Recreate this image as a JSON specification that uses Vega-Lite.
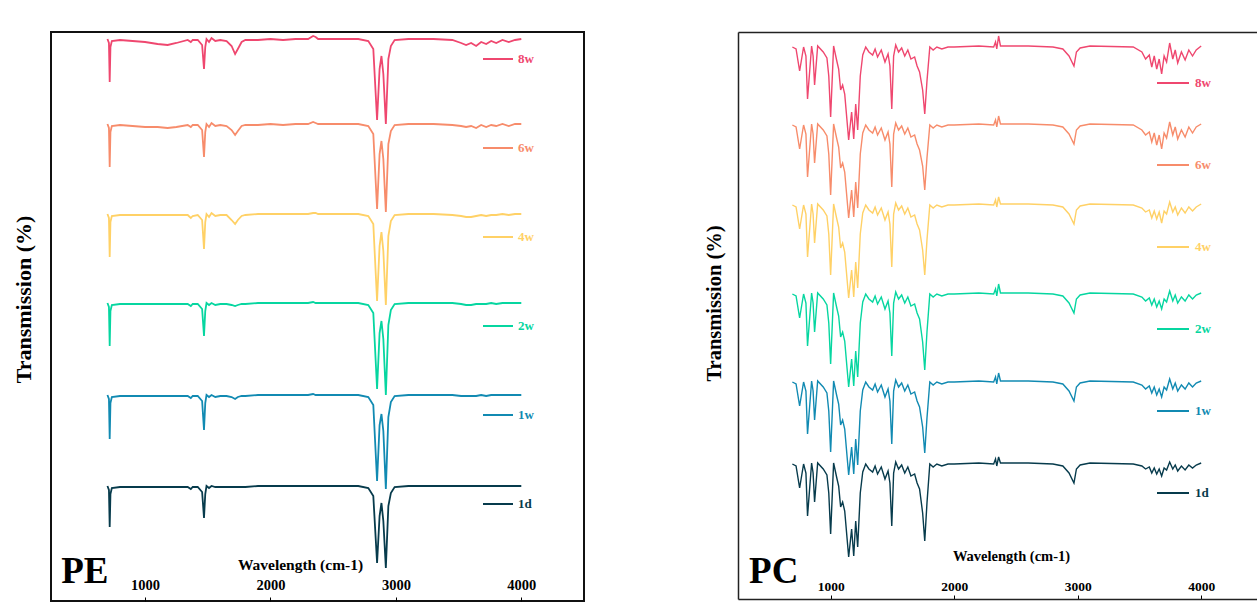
{
"$schema": "https://vega.github.io/schema/vega-lite/v6.json",
"padding": {"left": 11, "top": 31, "right": 0, "bottom": 0},
"background": "white",
"config": {"font": "Liberation Serif", "view": {"stroke": null}},
"spacing": 154,
"bounds": "flush",
"resolve": {"scale": {"color": "independent"}, "legend": {"color": "independent"}},
"datasets": {
"pe8w": [{"x":700,"y":562},{"x":712,"y":558},{"x":718,"y":519},{"x":724,"y":554},{"x":735,"y":560},{"x":800,"y":561},{"x":900,"y":560},{"x":1000,"y":559},{"x":1100,"y":557},{"x":1180,"y":556},{"x":1250,"y":558},{"x":1340,"y":561},{"x":1365,"y":559},{"x":1380,"y":561},{"x":1420,"y":561},{"x":1455,"y":556},{"x":1470,"y":532},{"x":1480,"y":554},{"x":1490,"y":562},{"x":1510,"y":559},{"x":1530,"y":563},{"x":1560,"y":560},{"x":1600,"y":561},{"x":1650,"y":560},{"x":1690,"y":555},{"x":1718,"y":547},{"x":1740,"y":552},{"x":1770,"y":559},{"x":1800,"y":561},{"x":1900,"y":561},{"x":2000,"y":562},{"x":2100,"y":561},{"x":2200,"y":562},{"x":2300,"y":562},{"x":2340,"y":565},{"x":2360,"y":564},{"x":2380,"y":562},{"x":2500,"y":562},{"x":2700,"y":562},{"x":2780,"y":560},{"x":2820,"y":552},{"x":2850,"y":481},{"x":2870,"y":532},{"x":2885,"y":545},{"x":2900,"y":527},{"x":2920,"y":477},{"x":2940,"y":542},{"x":2960,"y":555},{"x":2990,"y":561},{"x":3100,"y":562},{"x":3300,"y":562},{"x":3450,"y":561},{"x":3520,"y":558},{"x":3560,"y":556},{"x":3600,"y":558},{"x":3640,"y":555},{"x":3680,"y":559},{"x":3720,"y":557},{"x":3760,"y":560},{"x":3800,"y":558},{"x":3850,"y":561},{"x":3900,"y":559},{"x":3950,"y":561},{"x":4000,"y":562}],
"pe6w": [{"x":700,"y":477},{"x":712,"y":473},{"x":718,"y":434},{"x":724,"y":469},{"x":735,"y":475},{"x":800,"y":476},{"x":900,"y":475},{"x":1000,"y":474},{"x":1100,"y":474},{"x":1180,"y":473},{"x":1250,"y":474},{"x":1340,"y":476},{"x":1365,"y":474},{"x":1380,"y":476},{"x":1420,"y":476},{"x":1455,"y":471},{"x":1470,"y":444},{"x":1480,"y":469},{"x":1490,"y":477},{"x":1510,"y":474},{"x":1530,"y":478},{"x":1560,"y":475},{"x":1600,"y":476},{"x":1650,"y":475},{"x":1690,"y":471},{"x":1718,"y":466},{"x":1740,"y":470},{"x":1770,"y":475},{"x":1800,"y":476},{"x":1900,"y":476},{"x":2000,"y":477},{"x":2100,"y":476},{"x":2200,"y":477},{"x":2300,"y":477},{"x":2340,"y":479},{"x":2360,"y":478},{"x":2380,"y":477},{"x":2500,"y":477},{"x":2700,"y":477},{"x":2780,"y":475},{"x":2820,"y":467},{"x":2850,"y":392},{"x":2870,"y":447},{"x":2885,"y":460},{"x":2900,"y":442},{"x":2920,"y":389},{"x":2940,"y":457},{"x":2960,"y":470},{"x":2990,"y":476},{"x":3100,"y":477},{"x":3300,"y":477},{"x":3450,"y":476},{"x":3520,"y":475},{"x":3560,"y":474},{"x":3600,"y":475},{"x":3640,"y":473},{"x":3680,"y":476},{"x":3720,"y":474},{"x":3760,"y":476},{"x":3800,"y":475},{"x":3850,"y":477},{"x":3900,"y":475},{"x":3950,"y":477},{"x":4000,"y":477}],
"pe4w": [{"x":700,"y":387},{"x":712,"y":383},{"x":718,"y":344},{"x":724,"y":379},{"x":735,"y":385},{"x":800,"y":386},{"x":900,"y":386},{"x":1000,"y":386},{"x":1100,"y":386},{"x":1180,"y":386},{"x":1250,"y":386},{"x":1340,"y":386},{"x":1365,"y":383},{"x":1380,"y":385},{"x":1420,"y":386},{"x":1455,"y":381},{"x":1470,"y":352},{"x":1480,"y":379},{"x":1490,"y":387},{"x":1510,"y":384},{"x":1530,"y":388},{"x":1560,"y":385},{"x":1600,"y":386},{"x":1650,"y":386},{"x":1690,"y":381},{"x":1718,"y":377},{"x":1740,"y":381},{"x":1770,"y":385},{"x":1800,"y":386},{"x":1900,"y":387},{"x":2000,"y":387},{"x":2100,"y":387},{"x":2200,"y":387},{"x":2300,"y":387},{"x":2340,"y":388},{"x":2360,"y":388},{"x":2380,"y":387},{"x":2500,"y":387},{"x":2700,"y":387},{"x":2780,"y":385},{"x":2820,"y":377},{"x":2850,"y":300},{"x":2870,"y":355},{"x":2885,"y":369},{"x":2900,"y":350},{"x":2920,"y":296},{"x":2940,"y":365},{"x":2960,"y":380},{"x":2990,"y":386},{"x":3100,"y":387},{"x":3300,"y":387},{"x":3450,"y":386},{"x":3520,"y":385},{"x":3560,"y":384},{"x":3600,"y":384},{"x":3640,"y":385},{"x":3680,"y":386},{"x":3720,"y":385},{"x":3760,"y":386},{"x":3800,"y":386},{"x":3850,"y":387},{"x":3900,"y":386},{"x":3950,"y":387},{"x":4000,"y":387}],
"pe2w": [{"x":700,"y":298},{"x":712,"y":294},{"x":718,"y":255},{"x":724,"y":290},{"x":735,"y":296},{"x":800,"y":297},{"x":900,"y":297},{"x":1000,"y":297},{"x":1100,"y":297},{"x":1180,"y":297},{"x":1250,"y":297},{"x":1340,"y":297},{"x":1365,"y":295},{"x":1380,"y":297},{"x":1420,"y":297},{"x":1455,"y":292},{"x":1470,"y":265},{"x":1480,"y":290},{"x":1490,"y":298},{"x":1510,"y":296},{"x":1530,"y":298},{"x":1560,"y":296},{"x":1600,"y":297},{"x":1650,"y":297},{"x":1690,"y":296},{"x":1718,"y":295},{"x":1740,"y":296},{"x":1770,"y":297},{"x":1800,"y":297},{"x":1900,"y":298},{"x":2000,"y":298},{"x":2100,"y":298},{"x":2200,"y":298},{"x":2300,"y":298},{"x":2340,"y":299},{"x":2360,"y":298},{"x":2380,"y":298},{"x":2500,"y":298},{"x":2700,"y":298},{"x":2780,"y":296},{"x":2820,"y":288},{"x":2850,"y":212},{"x":2870,"y":268},{"x":2885,"y":280},{"x":2900,"y":262},{"x":2920,"y":206},{"x":2940,"y":276},{"x":2960,"y":291},{"x":2990,"y":297},{"x":3100,"y":298},{"x":3300,"y":298},{"x":3450,"y":298},{"x":3520,"y":297},{"x":3560,"y":296},{"x":3600,"y":296},{"x":3640,"y":297},{"x":3680,"y":297},{"x":3720,"y":297},{"x":3760,"y":298},{"x":3800,"y":297},{"x":3850,"y":298},{"x":3900,"y":298},{"x":3950,"y":298},{"x":4000,"y":298}],
"pe1w": [{"x":700,"y":206},{"x":712,"y":202},{"x":718,"y":162},{"x":724,"y":198},{"x":735,"y":204},{"x":800,"y":205},{"x":900,"y":205},{"x":1000,"y":205},{"x":1100,"y":205},{"x":1180,"y":205},{"x":1250,"y":205},{"x":1340,"y":205},{"x":1365,"y":203},{"x":1380,"y":205},{"x":1420,"y":205},{"x":1455,"y":200},{"x":1470,"y":171},{"x":1480,"y":198},{"x":1490,"y":206},{"x":1510,"y":204},{"x":1530,"y":206},{"x":1560,"y":204},{"x":1600,"y":205},{"x":1650,"y":205},{"x":1690,"y":204},{"x":1718,"y":202},{"x":1740,"y":204},{"x":1770,"y":205},{"x":1800,"y":205},{"x":1900,"y":206},{"x":2000,"y":206},{"x":2100,"y":206},{"x":2200,"y":206},{"x":2300,"y":206},{"x":2340,"y":207},{"x":2360,"y":206},{"x":2380,"y":206},{"x":2500,"y":206},{"x":2700,"y":206},{"x":2780,"y":204},{"x":2820,"y":196},{"x":2850,"y":120},{"x":2870,"y":176},{"x":2885,"y":187},{"x":2900,"y":170},{"x":2920,"y":112},{"x":2940,"y":184},{"x":2960,"y":199},{"x":2990,"y":205},{"x":3100,"y":206},{"x":3300,"y":206},{"x":3450,"y":206},{"x":3520,"y":205},{"x":3560,"y":205},{"x":3600,"y":205},{"x":3640,"y":205},{"x":3680,"y":206},{"x":3720,"y":205},{"x":3760,"y":206},{"x":3800,"y":206},{"x":3850,"y":206},{"x":3900,"y":206},{"x":3950,"y":206},{"x":4000,"y":206}],
"pe1d": [{"x":700,"y":115},{"x":712,"y":111},{"x":718,"y":74},{"x":724,"y":107},{"x":735,"y":113},{"x":800,"y":114},{"x":900,"y":114},{"x":1000,"y":114},{"x":1100,"y":114},{"x":1180,"y":114},{"x":1250,"y":114},{"x":1340,"y":114},{"x":1365,"y":112},{"x":1380,"y":114},{"x":1420,"y":114},{"x":1455,"y":109},{"x":1470,"y":83},{"x":1480,"y":107},{"x":1490,"y":115},{"x":1510,"y":113},{"x":1530,"y":115},{"x":1560,"y":114},{"x":1600,"y":114},{"x":1650,"y":114},{"x":1690,"y":114},{"x":1718,"y":114},{"x":1740,"y":114},{"x":1770,"y":114},{"x":1800,"y":114},{"x":1900,"y":115},{"x":2000,"y":115},{"x":2100,"y":115},{"x":2200,"y":115},{"x":2300,"y":115},{"x":2340,"y":115},{"x":2360,"y":115},{"x":2380,"y":115},{"x":2500,"y":115},{"x":2700,"y":115},{"x":2780,"y":113},{"x":2820,"y":105},{"x":2850,"y":38},{"x":2870,"y":85},{"x":2885,"y":98},{"x":2900,"y":80},{"x":2920,"y":33},{"x":2940,"y":95},{"x":2960,"y":108},{"x":2990,"y":114},{"x":3100,"y":115},{"x":3300,"y":115},{"x":3450,"y":115},{"x":3600,"y":115},{"x":3800,"y":115},{"x":4000,"y":115}],
"pc8w": [{"x":690,"y":552},{"x":720,"y":550},{"x":749,"y":528},{"x":781,"y":552},{"x":800,"y":543},{"x":813,"y":500},{"x":846,"y":553},{"x":858,"y":543},{"x":870,"y":514},{"x":895,"y":553},{"x":940,"y":547},{"x":970,"y":541},{"x":985,"y":523},{"x":1000,"y":482},{"x":1024,"y":553},{"x":1050,"y":538},{"x":1065,"y":530},{"x":1081,"y":509},{"x":1097,"y":514},{"x":1114,"y":505},{"x":1146,"y":459},{"x":1170,"y":487},{"x":1187,"y":460},{"x":1203,"y":495},{"x":1219,"y":469},{"x":1240,"y":523},{"x":1260,"y":544},{"x":1284,"y":552},{"x":1310,"y":547},{"x":1340,"y":544},{"x":1360,"y":550},{"x":1380,"y":542},{"x":1410,"y":549},{"x":1440,"y":537},{"x":1465,"y":545},{"x":1480,"y":533},{"x":1495,"y":490},{"x":1510,"y":543},{"x":1527,"y":554},{"x":1550,"y":547},{"x":1575,"y":551},{"x":1600,"y":543},{"x":1625,"y":549},{"x":1650,"y":540},{"x":1680,"y":542},{"x":1700,"y":533},{"x":1720,"y":527},{"x":1745,"y":509},{"x":1762,"y":485},{"x":1780,"y":518},{"x":1803,"y":552},{"x":1830,"y":549},{"x":1860,"y":552},{"x":1900,"y":550},{"x":1950,"y":552},{"x":2000,"y":552},{"x":2200,"y":553},{"x":2320,"y":552},{"x":2335,"y":557},{"x":2345,"y":550},{"x":2360,"y":563},{"x":2375,"y":553},{"x":2600,"y":553},{"x":2800,"y":552},{"x":2880,"y":550},{"x":2930,"y":543},{"x":2970,"y":533},{"x":2990,"y":547},{"x":3020,"y":551},{"x":3100,"y":553},{"x":3450,"y":552},{"x":3520,"y":547},{"x":3550,"y":540},{"x":3580,"y":544},{"x":3600,"y":532},{"x":3620,"y":543},{"x":3640,"y":530},{"x":3660,"y":540},{"x":3680,"y":525},{"x":3700,"y":543},{"x":3720,"y":537},{"x":3745,"y":556},{"x":3770,"y":540},{"x":3790,"y":549},{"x":3810,"y":536},{"x":3840,"y":547},{"x":3870,"y":539},{"x":3900,"y":549},{"x":3930,"y":543},{"x":3960,"y":549},{"x":4000,"y":553}],
"pc6w": [{"x":690,"y":474},{"x":720,"y":472},{"x":749,"y":450},{"x":781,"y":474},{"x":800,"y":465},{"x":813,"y":422},{"x":846,"y":475},{"x":858,"y":465},{"x":870,"y":436},{"x":895,"y":475},{"x":940,"y":469},{"x":970,"y":463},{"x":985,"y":445},{"x":1000,"y":404},{"x":1024,"y":475},{"x":1050,"y":460},{"x":1065,"y":452},{"x":1081,"y":431},{"x":1097,"y":436},{"x":1114,"y":427},{"x":1146,"y":381},{"x":1170,"y":409},{"x":1187,"y":382},{"x":1203,"y":417},{"x":1219,"y":391},{"x":1240,"y":445},{"x":1260,"y":466},{"x":1284,"y":474},{"x":1310,"y":469},{"x":1340,"y":466},{"x":1360,"y":472},{"x":1380,"y":464},{"x":1410,"y":471},{"x":1440,"y":459},{"x":1465,"y":467},{"x":1480,"y":455},{"x":1495,"y":412},{"x":1510,"y":465},{"x":1527,"y":476},{"x":1550,"y":469},{"x":1575,"y":473},{"x":1600,"y":465},{"x":1625,"y":471},{"x":1650,"y":462},{"x":1680,"y":464},{"x":1700,"y":455},{"x":1720,"y":449},{"x":1745,"y":433},{"x":1762,"y":409},{"x":1780,"y":441},{"x":1803,"y":474},{"x":1830,"y":471},{"x":1860,"y":474},{"x":1900,"y":472},{"x":1950,"y":474},{"x":2000,"y":474},{"x":2200,"y":475},{"x":2320,"y":474},{"x":2335,"y":479},{"x":2345,"y":472},{"x":2360,"y":483},{"x":2375,"y":475},{"x":2600,"y":475},{"x":2800,"y":474},{"x":2880,"y":472},{"x":2930,"y":465},{"x":2970,"y":455},{"x":2990,"y":469},{"x":3020,"y":473},{"x":3100,"y":475},{"x":3450,"y":474},{"x":3520,"y":469},{"x":3550,"y":464},{"x":3580,"y":467},{"x":3600,"y":457},{"x":3620,"y":466},{"x":3640,"y":454},{"x":3660,"y":464},{"x":3680,"y":450},{"x":3700,"y":466},{"x":3720,"y":461},{"x":3745,"y":477},{"x":3770,"y":464},{"x":3790,"y":472},{"x":3810,"y":460},{"x":3840,"y":469},{"x":3870,"y":462},{"x":3900,"y":472},{"x":3930,"y":466},{"x":3960,"y":472},{"x":4000,"y":475}],
"pc4w": [{"x":690,"y":394},{"x":720,"y":392},{"x":749,"y":370},{"x":781,"y":394},{"x":800,"y":385},{"x":813,"y":342},{"x":846,"y":395},{"x":858,"y":385},{"x":870,"y":356},{"x":895,"y":395},{"x":940,"y":389},{"x":970,"y":383},{"x":985,"y":365},{"x":1000,"y":324},{"x":1024,"y":395},{"x":1050,"y":380},{"x":1065,"y":372},{"x":1081,"y":351},{"x":1097,"y":356},{"x":1114,"y":347},{"x":1146,"y":301},{"x":1170,"y":329},{"x":1187,"y":302},{"x":1203,"y":337},{"x":1219,"y":311},{"x":1240,"y":365},{"x":1260,"y":386},{"x":1284,"y":394},{"x":1310,"y":389},{"x":1340,"y":386},{"x":1360,"y":392},{"x":1380,"y":384},{"x":1410,"y":391},{"x":1440,"y":379},{"x":1465,"y":387},{"x":1480,"y":375},{"x":1495,"y":332},{"x":1510,"y":385},{"x":1527,"y":396},{"x":1550,"y":389},{"x":1575,"y":393},{"x":1600,"y":385},{"x":1625,"y":391},{"x":1650,"y":382},{"x":1680,"y":384},{"x":1700,"y":375},{"x":1720,"y":369},{"x":1745,"y":349},{"x":1762,"y":324},{"x":1780,"y":359},{"x":1803,"y":394},{"x":1830,"y":391},{"x":1860,"y":394},{"x":1900,"y":392},{"x":1950,"y":394},{"x":2000,"y":394},{"x":2200,"y":395},{"x":2320,"y":394},{"x":2335,"y":399},{"x":2345,"y":392},{"x":2360,"y":402},{"x":2375,"y":395},{"x":2600,"y":395},{"x":2800,"y":394},{"x":2880,"y":392},{"x":2930,"y":385},{"x":2970,"y":375},{"x":2990,"y":389},{"x":3020,"y":393},{"x":3100,"y":395},{"x":3450,"y":394},{"x":3520,"y":391},{"x":3550,"y":387},{"x":3580,"y":389},{"x":3600,"y":381},{"x":3620,"y":388},{"x":3640,"y":380},{"x":3660,"y":387},{"x":3680,"y":376},{"x":3700,"y":388},{"x":3720,"y":385},{"x":3745,"y":397},{"x":3770,"y":387},{"x":3790,"y":392},{"x":3810,"y":384},{"x":3840,"y":391},{"x":3870,"y":386},{"x":3900,"y":392},{"x":3930,"y":388},{"x":3960,"y":392},{"x":4000,"y":395}],
"pc2w": [{"x":690,"y":305},{"x":720,"y":303},{"x":749,"y":281},{"x":781,"y":305},{"x":800,"y":296},{"x":813,"y":253},{"x":846,"y":306},{"x":858,"y":296},{"x":870,"y":267},{"x":895,"y":306},{"x":940,"y":300},{"x":970,"y":294},{"x":985,"y":276},{"x":1000,"y":235},{"x":1024,"y":306},{"x":1050,"y":291},{"x":1065,"y":283},{"x":1081,"y":262},{"x":1097,"y":267},{"x":1114,"y":258},{"x":1146,"y":212},{"x":1170,"y":240},{"x":1187,"y":213},{"x":1203,"y":248},{"x":1219,"y":222},{"x":1240,"y":276},{"x":1260,"y":297},{"x":1284,"y":305},{"x":1310,"y":300},{"x":1340,"y":297},{"x":1360,"y":303},{"x":1380,"y":295},{"x":1410,"y":302},{"x":1440,"y":290},{"x":1465,"y":298},{"x":1480,"y":286},{"x":1495,"y":243},{"x":1510,"y":296},{"x":1527,"y":307},{"x":1550,"y":300},{"x":1575,"y":304},{"x":1600,"y":296},{"x":1625,"y":302},{"x":1650,"y":293},{"x":1680,"y":295},{"x":1700,"y":286},{"x":1720,"y":280},{"x":1745,"y":257},{"x":1762,"y":229},{"x":1780,"y":267},{"x":1803,"y":305},{"x":1830,"y":302},{"x":1860,"y":305},{"x":1900,"y":303},{"x":1950,"y":305},{"x":2000,"y":305},{"x":2200,"y":306},{"x":2320,"y":305},{"x":2335,"y":310},{"x":2345,"y":303},{"x":2360,"y":315},{"x":2375,"y":306},{"x":2600,"y":306},{"x":2800,"y":305},{"x":2880,"y":303},{"x":2930,"y":296},{"x":2970,"y":286},{"x":2990,"y":300},{"x":3020,"y":304},{"x":3100,"y":306},{"x":3450,"y":305},{"x":3520,"y":302},{"x":3550,"y":298},{"x":3580,"y":301},{"x":3600,"y":294},{"x":3620,"y":300},{"x":3640,"y":292},{"x":3660,"y":298},{"x":3680,"y":290},{"x":3700,"y":300},{"x":3720,"y":297},{"x":3745,"y":308},{"x":3770,"y":298},{"x":3790,"y":304},{"x":3810,"y":296},{"x":3840,"y":302},{"x":3870,"y":298},{"x":3900,"y":304},{"x":3930,"y":300},{"x":3960,"y":304},{"x":4000,"y":306}],
"pc1w": [{"x":690,"y":217},{"x":720,"y":215},{"x":749,"y":193},{"x":781,"y":217},{"x":800,"y":208},{"x":813,"y":165},{"x":846,"y":218},{"x":858,"y":208},{"x":870,"y":179},{"x":895,"y":218},{"x":940,"y":212},{"x":970,"y":206},{"x":985,"y":188},{"x":1000,"y":147},{"x":1024,"y":218},{"x":1050,"y":203},{"x":1065,"y":195},{"x":1081,"y":174},{"x":1097,"y":179},{"x":1114,"y":170},{"x":1146,"y":124},{"x":1170,"y":152},{"x":1187,"y":125},{"x":1203,"y":160},{"x":1219,"y":134},{"x":1240,"y":188},{"x":1260,"y":209},{"x":1284,"y":217},{"x":1310,"y":212},{"x":1340,"y":209},{"x":1360,"y":215},{"x":1380,"y":207},{"x":1410,"y":214},{"x":1440,"y":202},{"x":1465,"y":210},{"x":1480,"y":198},{"x":1495,"y":155},{"x":1510,"y":208},{"x":1527,"y":219},{"x":1550,"y":212},{"x":1575,"y":216},{"x":1600,"y":208},{"x":1625,"y":214},{"x":1650,"y":205},{"x":1680,"y":207},{"x":1700,"y":198},{"x":1720,"y":192},{"x":1745,"y":172},{"x":1762,"y":146},{"x":1780,"y":181},{"x":1803,"y":217},{"x":1830,"y":214},{"x":1860,"y":217},{"x":1900,"y":215},{"x":1950,"y":217},{"x":2000,"y":217},{"x":2200,"y":218},{"x":2320,"y":217},{"x":2335,"y":222},{"x":2345,"y":215},{"x":2360,"y":226},{"x":2375,"y":218},{"x":2600,"y":218},{"x":2800,"y":217},{"x":2880,"y":215},{"x":2930,"y":208},{"x":2970,"y":198},{"x":2990,"y":212},{"x":3020,"y":216},{"x":3100,"y":218},{"x":3450,"y":217},{"x":3520,"y":214},{"x":3550,"y":210},{"x":3580,"y":213},{"x":3600,"y":206},{"x":3620,"y":212},{"x":3640,"y":204},{"x":3660,"y":210},{"x":3680,"y":202},{"x":3700,"y":212},{"x":3720,"y":209},{"x":3745,"y":220},{"x":3770,"y":210},{"x":3790,"y":216},{"x":3810,"y":208},{"x":3840,"y":214},{"x":3870,"y":210},{"x":3900,"y":216},{"x":3930,"y":212},{"x":3960,"y":216},{"x":4000,"y":218}],
"pc1d": [{"x":690,"y":135},{"x":720,"y":133},{"x":749,"y":111},{"x":781,"y":135},{"x":800,"y":126},{"x":813,"y":83},{"x":846,"y":136},{"x":858,"y":126},{"x":870,"y":97},{"x":895,"y":136},{"x":940,"y":130},{"x":970,"y":124},{"x":985,"y":106},{"x":1000,"y":65},{"x":1024,"y":136},{"x":1050,"y":121},{"x":1065,"y":113},{"x":1081,"y":92},{"x":1097,"y":97},{"x":1114,"y":88},{"x":1146,"y":42},{"x":1170,"y":70},{"x":1187,"y":43},{"x":1203,"y":78},{"x":1219,"y":52},{"x":1240,"y":106},{"x":1260,"y":127},{"x":1284,"y":135},{"x":1310,"y":130},{"x":1340,"y":127},{"x":1360,"y":133},{"x":1380,"y":125},{"x":1410,"y":132},{"x":1440,"y":120},{"x":1465,"y":128},{"x":1480,"y":116},{"x":1495,"y":73},{"x":1510,"y":126},{"x":1527,"y":137},{"x":1550,"y":130},{"x":1575,"y":134},{"x":1600,"y":126},{"x":1625,"y":132},{"x":1650,"y":123},{"x":1680,"y":125},{"x":1700,"y":116},{"x":1720,"y":110},{"x":1745,"y":86},{"x":1762,"y":58},{"x":1780,"y":96},{"x":1803,"y":135},{"x":1830,"y":132},{"x":1860,"y":135},{"x":1900,"y":133},{"x":1950,"y":135},{"x":2000,"y":135},{"x":2200,"y":136},{"x":2320,"y":135},{"x":2335,"y":140},{"x":2345,"y":133},{"x":2360,"y":142},{"x":2375,"y":136},{"x":2600,"y":136},{"x":2800,"y":135},{"x":2880,"y":133},{"x":2930,"y":126},{"x":2970,"y":116},{"x":2990,"y":130},{"x":3020,"y":134},{"x":3100,"y":136},{"x":3450,"y":135},{"x":3520,"y":133},{"x":3550,"y":130},{"x":3580,"y":132},{"x":3600,"y":126},{"x":3620,"y":131},{"x":3640,"y":125},{"x":3660,"y":130},{"x":3680,"y":123},{"x":3700,"y":131},{"x":3720,"y":129},{"x":3745,"y":137},{"x":3770,"y":130},{"x":3790,"y":134},{"x":3810,"y":128},{"x":3840,"y":133},{"x":3870,"y":129},{"x":3900,"y":134},{"x":3930,"y":131},{"x":3960,"y":134},{"x":4000,"y":136}]
},
"hconcat": [
{
"width": 533, "height": 569,
"view": {"stroke": "#111", "strokeWidth": 2},
"encoding": {
"x": {"field": "x", "type": "quantitative", "scale": {"domain": [250, 4500], "nice": false, "zero": false},
 "axis": {"values": [1000, 2000, 3000, 4000], "format": "d", "title": "Wavelength (cm-1)", "titleX": 249, "titleY": -32, "titleAlign": "center", "titleBaseline": "alphabetic", "titleFontSize": 15.5, "titleFontWeight": "bold", "titleColor": "black", "tickSize": -4, "tickColor": "black", "labelPadding": -19, "labelFontSize": 14.5, "labelFontWeight": "bold", "labelColor": "black", "domain": false, "grid": false}},
"y": {"field": "y", "type": "quantitative", "scale": {"domain": [0, 569], "nice": false, "zero": false},
 "axis": {"title": "Transmission (%)", "titleX": -16, "titleY": 267, "titleAngle": 270, "titleAlign": "center", "titleBaseline": "bottom", "titleFontSize": 22, "titleFontWeight": "bold", "titleColor": "black", "labels": false, "ticks": false, "domain": false, "grid": false}}
},
"layer": [
{"data": {"name": "pe8w"}, "mark": {"type": "line", "strokeWidth": 1.8}, "encoding": {"color": {"datum": "8w", "type": "nominal", "scale": {"domain": ["8w","6w","4w","2w","1w","1d"], "range": ["#EF476F","#F78C6B","#FFD166","#06D6A0","#118AB2","#073B4C"]},
 "legend": {"orient": "none", "legendX": 431, "legendY": 11, "direction": "vertical", "title": null, "symbolType": "stroke", "symbolSize": 900, "symbolStrokeWidth": 2, "labelFont": "Liberation Serif", "labelFontSize": 13, "labelFontWeight": "bold", "labelOffset": 4, "rowPadding": 66,
  "encode": {"labels": {"update": {"fill": {"signal": "datum.value==='8w'?'#EF476F':datum.value==='6w'?'#F78C6B':datum.value==='4w'?'#FFD166':datum.value==='2w'?'#06D6A0':datum.value==='1w'?'#118AB2':'#073B4C'"}}}}}}}},
{"data": {"name": "pe6w"}, "mark": {"type": "line", "strokeWidth": 1.8}, "encoding": {"color": {"datum": "6w", "type": "nominal"}}},
{"data": {"name": "pe4w"}, "mark": {"type": "line", "strokeWidth": 1.8}, "encoding": {"color": {"datum": "4w", "type": "nominal"}}},
{"data": {"name": "pe2w"}, "mark": {"type": "line", "strokeWidth": 1.8}, "encoding": {"color": {"datum": "2w", "type": "nominal"}}},
{"data": {"name": "pe1w"}, "mark": {"type": "line", "strokeWidth": 1.8}, "encoding": {"color": {"datum": "1w", "type": "nominal"}}},
{"data": {"name": "pe1d"}, "mark": {"type": "line", "strokeWidth": 1.8}, "encoding": {"color": {"datum": "1d", "type": "nominal"}}},
{"data": {"values": [{"t": "PE", "x": 331, "y": 18}]}, "mark": {"type": "text", "align": "left", "baseline": "alphabetic", "fontSize": 37, "fontWeight": "bold", "color": "black"}, "encoding": {"text": {"field": "t"}}}
]
},
{
"width": 519, "height": 567,
"resolve": {"axis": {"x": "independent"}},
"encoding": {
"y": {"field": "y", "type": "quantitative", "scale": {"domain": [0, 567], "nice": false, "zero": false},
 "axis": {"title": "Transmission (%)", "titleX": -14, "titleY": 271, "titleAngle": 270, "titleAlign": "center", "titleBaseline": "bottom", "titleFontSize": 20.5, "titleFontWeight": "bold", "titleColor": "black", "labels": false, "ticks": false, "domain": true, "domainColor": "#222", "domainWidth": 1.5, "grid": false}}
},
"layer": [
{
"encoding": {
"x": {"field": "x", "type": "quantitative", "scale": {"domain": [250, 4452], "nice": false, "zero": false},
 "axis": {"values": [1000, 2000, 3000, 4000], "format": "d", "title": "Wavelength (cm-1)", "titleX": 273, "titleY": -39, "titleAlign": "center", "titleBaseline": "alphabetic", "titleFontSize": 14.5, "titleFontWeight": "bold", "titleColor": "black", "tickSize": -4, "tickColor": "black", "labelPadding": -16, "labelFontSize": 13.5, "labelFontWeight": "bold", "labelColor": "black", "domain": true, "domainColor": "#222", "domainWidth": 1.5, "grid": false}}
},
"layer": [
{"data": {"name": "pc8w"}, "mark": {"type": "line", "strokeWidth": 1.4}, "encoding": {"color": {"datum": "8w", "type": "nominal", "scale": {"domain": ["8w","6w","4w","2w","1w","1d"], "range": ["#EF476F","#F78C6B","#FFD166","#06D6A0","#118AB2","#073B4C"]},
 "legend": {"orient": "none", "legendX": 418, "legendY": 34, "direction": "vertical", "title": null, "symbolType": "stroke", "symbolSize": 1024, "symbolStrokeWidth": 2, "labelFont": "Liberation Serif", "labelFontSize": 13, "labelFontWeight": "bold", "labelOffset": 5, "rowPadding": 58,
  "encode": {"labels": {"update": {"fill": {"signal": "datum.value==='8w'?'#EF476F':datum.value==='6w'?'#F78C6B':datum.value==='4w'?'#FFD166':datum.value==='2w'?'#06D6A0':datum.value==='1w'?'#118AB2':'#073B4C'"}}}}}}}},
{"data": {"name": "pc6w"}, "mark": {"type": "line", "strokeWidth": 1.4}, "encoding": {"color": {"datum": "6w", "type": "nominal"}}},
{"data": {"name": "pc4w"}, "mark": {"type": "line", "strokeWidth": 1.4}, "encoding": {"color": {"datum": "4w", "type": "nominal"}}},
{"data": {"name": "pc2w"}, "mark": {"type": "line", "strokeWidth": 1.4}, "encoding": {"color": {"datum": "2w", "type": "nominal"}}},
{"data": {"name": "pc1w"}, "mark": {"type": "line", "strokeWidth": 1.4}, "encoding": {"color": {"datum": "1w", "type": "nominal"}}},
{"data": {"name": "pc1d"}, "mark": {"type": "line", "strokeWidth": 1.4}, "encoding": {"color": {"datum": "1d", "type": "nominal"}}}
]
},
{"data": {"values": [{"t": "PC", "x": 340, "y": 16}]}, "mark": {"type": "text", "align": "left", "baseline": "alphabetic", "fontSize": 37, "fontWeight": "bold", "color": "black"},
 "encoding": {
  "x": {"field": "x", "type": "quantitative", "scale": {"domain": [250, 4452], "nice": false, "zero": false}, "axis": {"orient": "top", "labels": false, "ticks": false, "title": null, "grid": false, "domain": true, "domainColor": "#222", "domainWidth": 1.5}},
  "text": {"field": "t"}}}
]
}
]
}
